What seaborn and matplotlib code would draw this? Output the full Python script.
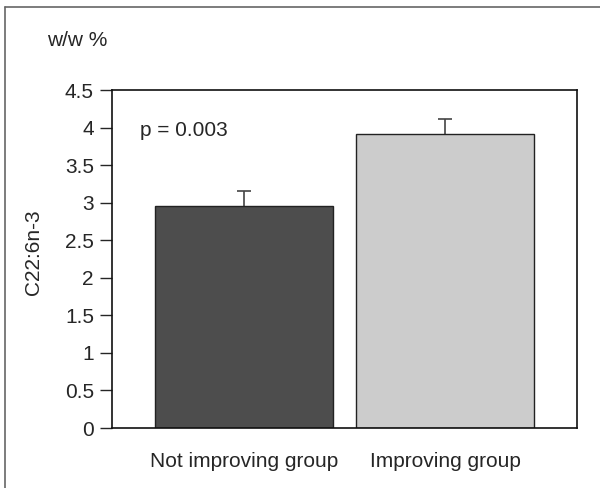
import matplotlib
matplotlib.use("Agg")
import matplotlib.pyplot as plt
import seaborn as sns
import pandas as pd
from matplotlib.lines import Line2D

categories = ["Not improving group", "Improving group"]
values = [2.95, 3.92]
errors = [0.20, 0.20]
colors = ["#4d4d4d", "#cccccc"]
yticks = [0, 0.5, 1, 1.5, 2, 2.5, 3, 3.5, 4, 4.5]
ytick_labels = ["0", "0.5", "1", "1.5", "2", "2.5", "3", "3.5", "4", "4.5"]

sns.set_style("white")
plt.rcParams['font.family'] = ['Liberation Sans', 'DejaVu Sans']

W, H = 600, 488
fig = plt.figure(figsize=(6, 4.88), dpi=100)
ax = fig.add_axes([112 / W, 1 - 428 / H, (577 - 112) / W, (428 - 90) / H])

df = pd.DataFrame({"group": categories, "value": values})
sns.barplot(data=df, x="group", y="value", hue="group", palette=colors,
            width=0.885, edgecolor="#222222", linewidth=1.0, errorbar=None,
            legend=False, ax=ax, zorder=2)

ax.errorbar([0, 1], values, yerr=errors, fmt="none",
            ecolor="#444444", elinewidth=1.2, capsize=5, capthick=1.2, zorder=1)

ax.set_ylim(0, 4.5)
ax.set_xlim(-0.657, 1.654)
ax.set_yticks(yticks)
ax.set_yticklabels(ytick_labels)
ax.set_xlabel("")
ax.set_ylabel("")
ax.tick_params(axis="y", length=9, width=1, direction="out", labelsize=15, pad=4, left=True)
ax.tick_params(axis="x", length=0, labelsize=15, pad=17)
for s in ax.spines.values():
    s.set_visible(True)
    s.set_color("#111111")
    s.set_linewidth(1.2)

fig.text(33 / W, 1 - 252 / H, "C22:6n-3", fontsize=15, rotation=90, va="center", ha="center")
fig.text(140 / W, 1 - 131 / H, "p = 0.003", fontsize=15, va="center", ha="left")
fig.text(47 / W, 1 - 40 / H, "w/w %", fontsize=15, va="center", ha="left")

fig.add_artist(Line2D([5 / W, 1], [1 - 7 / H, 1 - 7 / H], transform=fig.transFigure,
                      color="#666666", linewidth=1.2))
fig.add_artist(Line2D([5 / W, 5 / W], [0, 1 - 7 / H], transform=fig.transFigure,
                      color="#666666", linewidth=1.2))

fig.savefig("out.png", dpi=100)
